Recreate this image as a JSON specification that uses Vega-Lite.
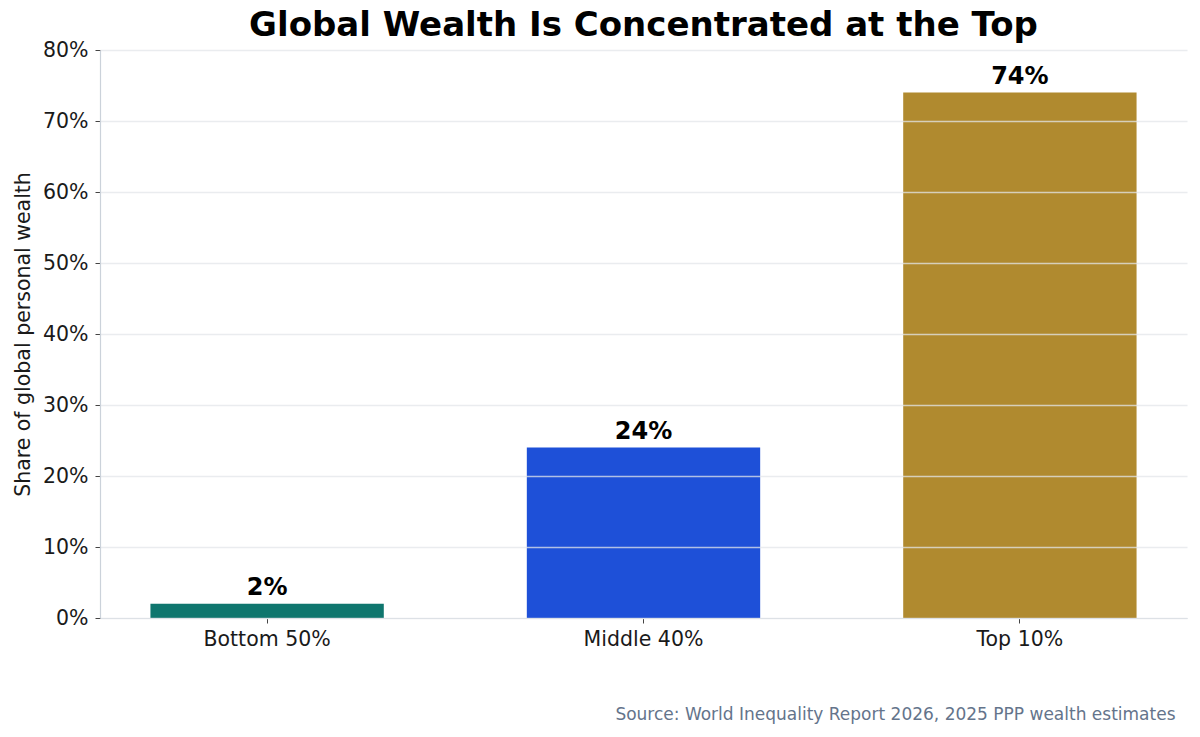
{
  "$schema": "https://vega.github.io/schema/vega-lite/v6.json",
  "width": 1087,
  "height": 568,
  "autosize": {"type": "none"},
  "padding": {"left": 100, "top": 50, "right": 13, "bottom": 119},
  "background": "white",
  "title": {
    "text": "Global Wealth Is Concentrated at the Top",
    "font": "DejaVu Sans",
    "fontSize": 34,
    "fontWeight": "bold",
    "color": "#000000",
    "anchor": "middle",
    "baseline": "alphabetic",
    "offset": 10,
    "dy": 40
  },
  "config": {
    "view": {"stroke": null},
    "font": "DejaVu Sans"
  },
  "data": {
    "values": [
      {"group": "Bottom 50%", "share": 0.02},
      {"group": "Middle 40%", "share": 0.24},
      {"group": "Top 10%", "share": 0.74}
    ]
  },
  "encoding": {
    "x": {
      "field": "group",
      "type": "nominal",
      "sort": null,
      "scale": {"paddingInner": 0.38, "paddingOuter": 0.134},
      "axis": {
        "labelAngle": 0,
        "labelFont": "DejaVu Sans",
        "labelFontSize": 20.5,
        "labelColor": "#1a1a1a",
        "labelPadding": 6,
        "tickColor": "#444444",
        "tickSize": 5,
        "domainColor": "#cbd2da",
        "domainWidth": 1.2,
        "title": "Source: World Inequality Report 2026, 2025 PPP wealth estimates",
        "titleFont": "DejaVu Sans",
        "titleFontSize": 17,
        "titleFontWeight": "normal",
        "titleColor": "#64748b",
        "titleAnchor": null,
        "titleAlign": "right",
        "titleBaseline": "middle",
        "titleX": 1075,
        "titleY": 96
      }
    },
    "y": {
      "field": "share",
      "type": "quantitative",
      "scale": {"domain": [0, 0.8], "nice": false},
      "axis": {
        "values": [0, 0.1, 0.2, 0.3, 0.4, 0.5, 0.6, 0.7, 0.8],
        "format": ".0%",
        "zindex": 1,
        "labelFont": "DejaVu Sans",
        "labelFontSize": 20.5,
        "labelColor": "#1a1a1a",
        "labelPadding": 7,
        "tickColor": "#444444",
        "tickSize": 5,
        "domainColor": "#cbd2da",
        "domainWidth": 1.2,
        "grid": true,
        "gridColor": "#e3e6ea",
        "gridOpacity": 0.75,
        "gridWidth": 1.3,
        "title": "Share of global personal wealth",
        "titleFont": "DejaVu Sans",
        "titleFontSize": 20.5,
        "titleFontWeight": "normal",
        "titleColor": "#1a1a1a",
        "titleAngle": -90,
        "titleAlign": "center",
        "titleBaseline": "middle",
        "titleAnchor": null,
        "titleX": -77,
        "titleY": 284
      }
    }
  },
  "layer": [
    {
      "mark": {"type": "bar"},
      "encoding": {
        "color": {
          "field": "group",
          "type": "nominal",
          "sort": null,
          "scale": {
            "domain": ["Bottom 50%", "Middle 40%", "Top 10%"],
            "range": ["#0f766e", "#1e50d8", "#b08a2f"]
          },
          "legend": null
        }
      }
    },
    {
      "mark": {
        "type": "text",
        "font": "DejaVu Sans",
        "fontSize": 24,
        "fontWeight": "bold",
        "color": "#000000",
        "baseline": "alphabetic",
        "align": "center",
        "dy": -9
      },
      "encoding": {
        "text": {"field": "share", "type": "quantitative", "format": ".0%"}
      }
    }
  ]
}
